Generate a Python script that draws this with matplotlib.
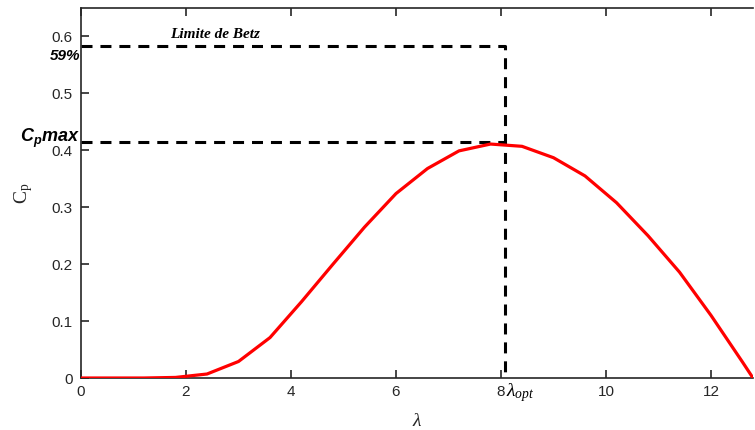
import matplotlib
matplotlib.use("Agg")
import matplotlib.pyplot as plt

plt.rcParams["mathtext.fontset"] = "custom"
plt.rcParams["mathtext.rm"] = "Liberation Serif"
plt.rcParams["mathtext.it"] = "Liberation Serif:italic"
plt.rcParams["mathtext.bfit"] = "Liberation Sans:bold:italic"
plt.rcParams["font.family"] = "Liberation Sans"

# power coefficient vs tip speed ratio
lam = [0, 0.6, 1.2, 1.8, 2.4, 3.0, 3.6, 4.2, 4.8, 5.4, 6.0, 6.6, 7.2, 7.8,
       8.4, 9.0, 9.6, 10.2, 10.8, 11.4, 12.0, 12.6, 12.8]
cp = [0, 0, 0, 0.001, 0.007, 0.029, 0.071, 0.134, 0.2, 0.265, 0.324, 0.368,
      0.399, 0.411, 0.407, 0.387, 0.355, 0.308, 0.25, 0.186, 0.11, 0.028, 0.0]

lam_opt = 8.08
cp_max = 0.415
betz = 0.584

axcol = "#262626"

fig = plt.figure(figsize=(7.55, 4.30), dpi=100)
ax = fig.add_axes([81 / 755, 1 - 378 / 430, (753 - 81) / 755, 370 / 430])

ax.plot(lam, cp, color="red", lw=2.3, zorder=3)
ax.plot([0, lam_opt, lam_opt], [betz, betz, 0], color="black", lw=2.2,
        dashes=(3.6, 2.6), zorder=2, clip_on=False)
ax.plot([0, lam_opt], [cp_max, cp_max], color="black", lw=2.2,
        dashes=(3.6, 2.6), zorder=2)

ax.set_xlim(0, 12.8)
ax.set_ylim(0, 0.65)
ax.set_xticks([0, 2, 4, 6, 8, 10, 12])
ax.set_yticks([0, 0.1, 0.2, 0.3, 0.4, 0.5, 0.6])
ax.set_xticklabels(["0", "2", "4", "6", "8", "10", "12"])
ax.set_yticklabels(["0", "0.1", "0.2", "0.3", "0.4", "0.5", "0.6"])
ax.tick_params(direction="in", length=5.5, width=1.2, colors=axcol,
               labelsize=11, top=True, right=False)
ax.tick_params(axis="x", pad=5)
ax.tick_params(axis="y", pad=6)
for side in ["left", "bottom", "top"]:
    ax.spines[side].set_color(axcol)
    ax.spines[side].set_linewidth(1.2)
ax.spines["right"].set_visible(False)

ax.set_xlabel(r"$\lambda$", fontsize=14, color=axcol, labelpad=10)
ax.set_ylabel(r"$\mathrm{C_p}$", fontsize=14, color=axcol, labelpad=12)

ax.text(-0.001, betz - 0.018, "59%", transform=ax.get_yaxis_transform(),
        fontsize=11, fontweight="bold", fontstyle="italic",
        ha="right", va="center", clip_on=False)
ax.text(-0.001, cp_max + 0.006, r"$\mathbfit{C_p}\mathbfit{max}$",
        transform=ax.get_yaxis_transform(), fontsize=13,
        ha="right", va="center", clip_on=False)
ax.text(2.55, betz + 0.02, "Limite de Betz", family="Liberation Serif",
        fontsize=11, fontweight="bold", fontstyle="italic",
        ha="center", va="center")
ax.text(lam_opt + 0.02, -0.005, r"$\lambda_{opt}$", fontsize=14,
        ha="left", va="top", clip_on=False)

fig.savefig("out.png", dpi=100)
